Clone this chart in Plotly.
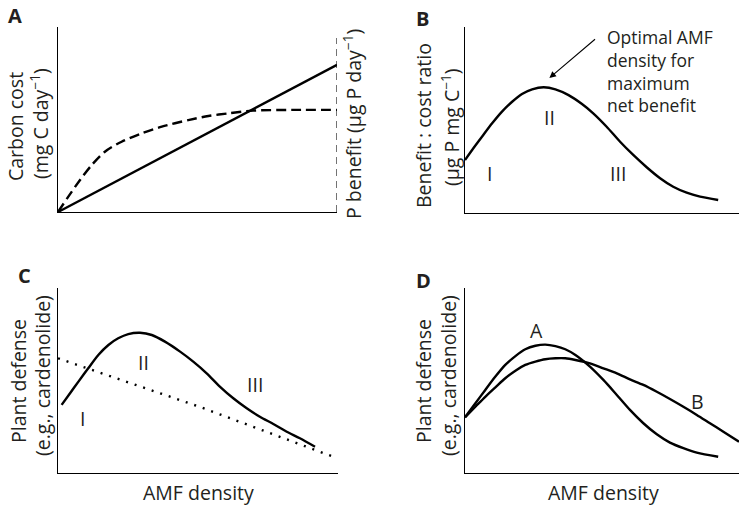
import plotly.graph_objects as go

W, H = 739, 508

# ---------------- data (arbitrary conceptual units, 0-10) ----------------
# Panel A: carbon cost (solid) and P benefit (dashed)
a_cost_x = [0, 10]
a_cost_y = [0, 7.95]
a_benefit_x = [0, 0.37, 0.79, 1.21, 1.68, 2.28, 3.0, 3.72, 4.67, 5.39, 6.11, 7.0, 8.5, 10]
a_benefit_y = [0, 0.83, 1.73, 2.54, 3.26, 3.80, 4.25, 4.61, 4.97, 5.19, 5.33, 5.48, 5.52, 5.52]
a_right_x = [10, 10]
a_right_y = [0, 9.4]

# Panel B: benefit:cost ratio
b_x = [0, 0.26, 0.62, 0.99, 1.35, 1.72, 2.08, 2.45, 2.87, 3.30, 3.78, 4.27, 4.68, 5.17,
       5.66, 6.14, 6.63, 7.12, 7.60, 8.09, 8.58, 9.24]
b_y = [2.85, 3.39, 4.10, 4.82, 5.45, 5.98, 6.40, 6.65, 6.76, 6.65, 6.34, 5.86, 5.36, 4.64,
       3.83, 3.12, 2.46, 1.87, 1.41, 1.09, 0.88, 0.70]

# Panel C: plant defense (solid) and dotted line
c_x = [0.13, 0.43, 0.73, 1.08, 1.44, 1.80, 2.15, 2.51, 2.93, 3.35, 3.82, 4.36, 4.83, 5.31,
       5.79, 6.26, 6.74, 7.21, 7.69, 8.17, 8.64, 9.18]
c_y = [3.68, 4.31, 4.94, 5.66, 6.38, 6.92, 7.28, 7.51, 7.58, 7.46, 7.10, 6.56, 6.02, 5.39,
       4.66, 4.04, 3.50, 3.04, 2.65, 2.23, 1.88, 1.42]
c_dot_x = [0, 5.07, 9.83]
c_dot_y = [6.20, 3.57, 0.88]

# Panel D: curves A and B
dA_x = [0, 0.38, 0.74, 1.11, 1.47, 1.84, 2.20, 2.57, 2.93, 3.30, 3.66, 4.03, 4.56, 5.05,
        5.54, 6.02, 6.51, 7.0, 7.48, 7.97, 8.46, 9.24]
dA_y = [3.01, 3.77, 4.49, 5.21, 5.84, 6.32, 6.69, 6.88, 6.94, 6.86, 6.69, 6.38, 5.75, 5.03,
        4.22, 3.41, 2.69, 2.09, 1.64, 1.34, 1.10, 0.88]
dB_x = [0, 0.38, 0.74, 1.11, 1.47, 1.84, 2.20, 2.57, 2.93, 3.30, 3.66, 4.03, 4.56, 5.05,
        5.54, 6.02, 6.51, 7.0, 7.48, 7.97, 8.46, 8.94, 9.43, 10.0]
dB_y = [3.01, 3.58, 4.12, 4.63, 5.12, 5.53, 5.84, 6.02, 6.15, 6.20, 6.20, 6.11, 5.93, 5.66,
        5.39, 5.06, 4.76, 4.39, 4.00, 3.58, 3.14, 2.69, 2.23, 1.69]

# text labels
panel_letters = ["A", "B", "C", "D"]
roman_B = [("I", 0.88, 2.10), ("II", 3.08, 5.11), ("III", 5.57, 2.10)]
roman_C = [("I", 0.89, 2.97), ("II", 3.07, 5.95), ("III", 7.04, 4.76)]
curve_labels_D = [("A", 2.60, 7.73), ("B", 8.50, 3.84)]
optimal_lines = ["Optimal AMF", "density for", "maximum", "net benefit"]
optimal_arrow = (3.08, 7.26, 4.80, 9.41)  # head x,y ; tail x,y

FONT = "Open Sans, Noto Sans, sans-serif"
FS = 19.5
LW = 2.4

fig = go.Figure()

def line(x, y, xa, ya, dash="solid", width=LW, shape="spline"):
    fig.add_trace(go.Scatter(x=x, y=y, xaxis=xa, yaxis=ya, mode="lines",
                             line=dict(color="black", width=width, dash=dash, shape=shape,
                                       smoothing=0.8 if shape == "spline" else None),
                             hoverinfo="skip", showlegend=False, cliponaxis=False))

line(a_cost_x, a_cost_y, "x", "y", shape="linear")
line(a_benefit_x, a_benefit_y, "x", "y", dash="10px,5px")
line(a_right_x, a_right_y, "x", "y", dash="7px,5px", width=1.1, shape="linear")
line(b_x, b_y, "x2", "y2")
line(c_x, c_y, "x3", "y3")
line(c_dot_x, c_dot_y, "x3", "y3", dash="2px,7px", width=2.4, shape="linear")
line(dA_x, dA_y, "x4", "y4")
line(dB_x, dB_y, "x4", "y4")

def px_x(p):
    return p / W

def px_y(p):
    return 1 - p / H

axis_common = dict(range=[0, 10], showline=True, linecolor="black", linewidth=1.4,
                   showgrid=False, zeroline=False, showticklabels=False, ticks="",
                   fixedrange=True)

fig.update_layout(
    width=W, height=H, margin=dict(l=0, r=0, t=0, b=0),
    paper_bgcolor="white", plot_bgcolor="white",
    font=dict(family=FONT, size=FS, color="#231f20"),
    showlegend=False,
    xaxis=dict(domain=[px_x(58), px_x(337)], anchor="y", **axis_common),
    yaxis=dict(domain=[px_y(212), px_y(27)], anchor="x", **axis_common),
    xaxis2=dict(domain=[px_x(465), 1.0], anchor="y2", **axis_common),
    yaxis2=dict(domain=[px_y(213), px_y(27)], anchor="x2", **axis_common),
    xaxis3=dict(domain=[px_x(58), px_x(338)], anchor="y3", **axis_common),
    yaxis3=dict(domain=[px_y(473), px_y(288)], anchor="x3", **axis_common),
    xaxis4=dict(domain=[px_x(465), 1.0], anchor="y4", **axis_common),
    yaxis4=dict(domain=[px_y(473), px_y(288)], anchor="x4", **axis_common),
)

ann = []

def ptext(text, x, y, angle=0, size=FS, xanchor="center", yanchor="middle", align="center"):
    ann.append(dict(text=text, x=px_x(x), y=px_y(y), xref="paper", yref="paper",
                    showarrow=False, textangle=angle, font=dict(size=size),
                    xanchor=xanchor, yanchor=yanchor, align=align))

# panel letters
for letter, (lx, ly) in zip(panel_letters, [(15, 16), (422, 18), (24, 275), (423, 280)]):
    ptext("<b>%s</b>" % letter, lx, ly, size=20)

# y-axis titles
ptext("Carbon cost", 15, 127, angle=-90)
ptext("(mg C day<sup>−1</sup>)", 39, 124, angle=-90)
ptext("P benefit (µg P day<sup>−1</sup>)", 352, 124, angle=-90)
ptext("Benefit : cost ratio", 423, 126, angle=-90)
ptext("(µg P mg C<sup>−1</sup>)", 450, 127, angle=-90)
ptext("Plant defense", 18, 381, angle=-90)
ptext("(e.g., cardenolide)", 42, 376, angle=-90)
ptext("Plant defense", 423, 381, angle=-90)
ptext("(e.g., cardenolide)", 448, 376, angle=-90)
# x-axis titles
ptext("AMF density", 198, 492)
ptext("AMF density", 603, 492)

# optimal annotation text block
ptext("<br>".join(optimal_lines), 605, 71, xanchor="left", size=17.5, align="left")

def dtext(text, x, y, xa, ya):
    ann.append(dict(text=text, x=x, y=y, xref=xa, yref=ya, showarrow=False,
                    xanchor="center", yanchor="middle"))

for t, x, y in roman_B:
    dtext(t, x, y, "x2", "y2")
for t, x, y in roman_C:
    dtext(t, x, y, "x3", "y3")
for t, x, y in curve_labels_D:
    dtext(t, x, y, "x4", "y4")

hx, hy, tx, ty = optimal_arrow
ann.append(dict(text="", x=hx, y=hy, xref="x2", yref="y2", ax=tx, ay=ty,
                axref="x2", ayref="y2", showarrow=True, arrowhead=2, arrowsize=1.2,
                arrowwidth=1.1, arrowcolor="black"))

fig.update_layout(annotations=ann)
fig.write_html("out.html", config={"displayModeBar": False},
               post_script="document.body.style.margin='0';document.body.style.overflow='hidden';")
